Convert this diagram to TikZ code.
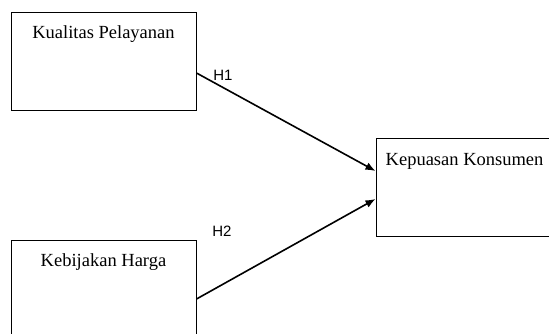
\documentclass[tikz,border=0pt]{standalone}
\usepackage{fontspec}
\setmainfont{Liberation Serif}
\newfontfamily\hlabelfont{Liberation Sans}
\usetikzlibrary{arrows.meta, positioning}

\begin{document}
\begin{tikzpicture}[x=1pt, y=-1pt, node distance=20pt]
\tikzstyle{varbox} = [rectangle, draw, line width=1pt, minimum width=185pt,
    minimum height=98pt, inner sep=0pt]
\tikzstyle{vartext} = [font=\fontsize{18.5}{22}\selectfont, anchor=north, inner sep=0pt]
\tikzstyle{hyp} = [font=\hlabelfont\fontsize{15}{18}\selectfont, inner sep=0pt]
\tikzstyle{arrow} = [line width=1.6pt, -{Latex[length=10pt, width=8pt]}]

\useasboundingbox (0,0) rectangle (549,333);
\clip (0,0) rectangle (549,333);

% Boxes
\node [varbox] (kualitas) at (103.5,61) {};
\node [varbox, below=129pt of kualitas] (harga) {};
\node [varbox, below right=27pt and 179pt of kualitas] (kepuasan) {};

% Texts
\node [vartext] (tkualitas) at ([yshift=-14pt]kualitas.north) {Kualitas Pelayanan};
\node [vartext] (tharga) at ([yshift=-14pt]harga.north) {Kebijakan Harga};
\node [vartext, anchor=north west] (tkepuasan) at ([xshift=10pt, yshift=-16pt]kepuasan.north west) {Kepuasan Konsumen};

% Hypotheses
\node [hyp] (h1) at (223,75) {H1};
\node [hyp] (h2) at (222,231) {H2};

% Arrows
\draw [arrow] ([yshift=-12pt]kualitas.east) -- ([yshift=16pt]kepuasan.west);
\draw [arrow] ([yshift=-10pt]harga.east) -- ([yshift=-12pt]kepuasan.west);
\end{tikzpicture}
\end{document}
